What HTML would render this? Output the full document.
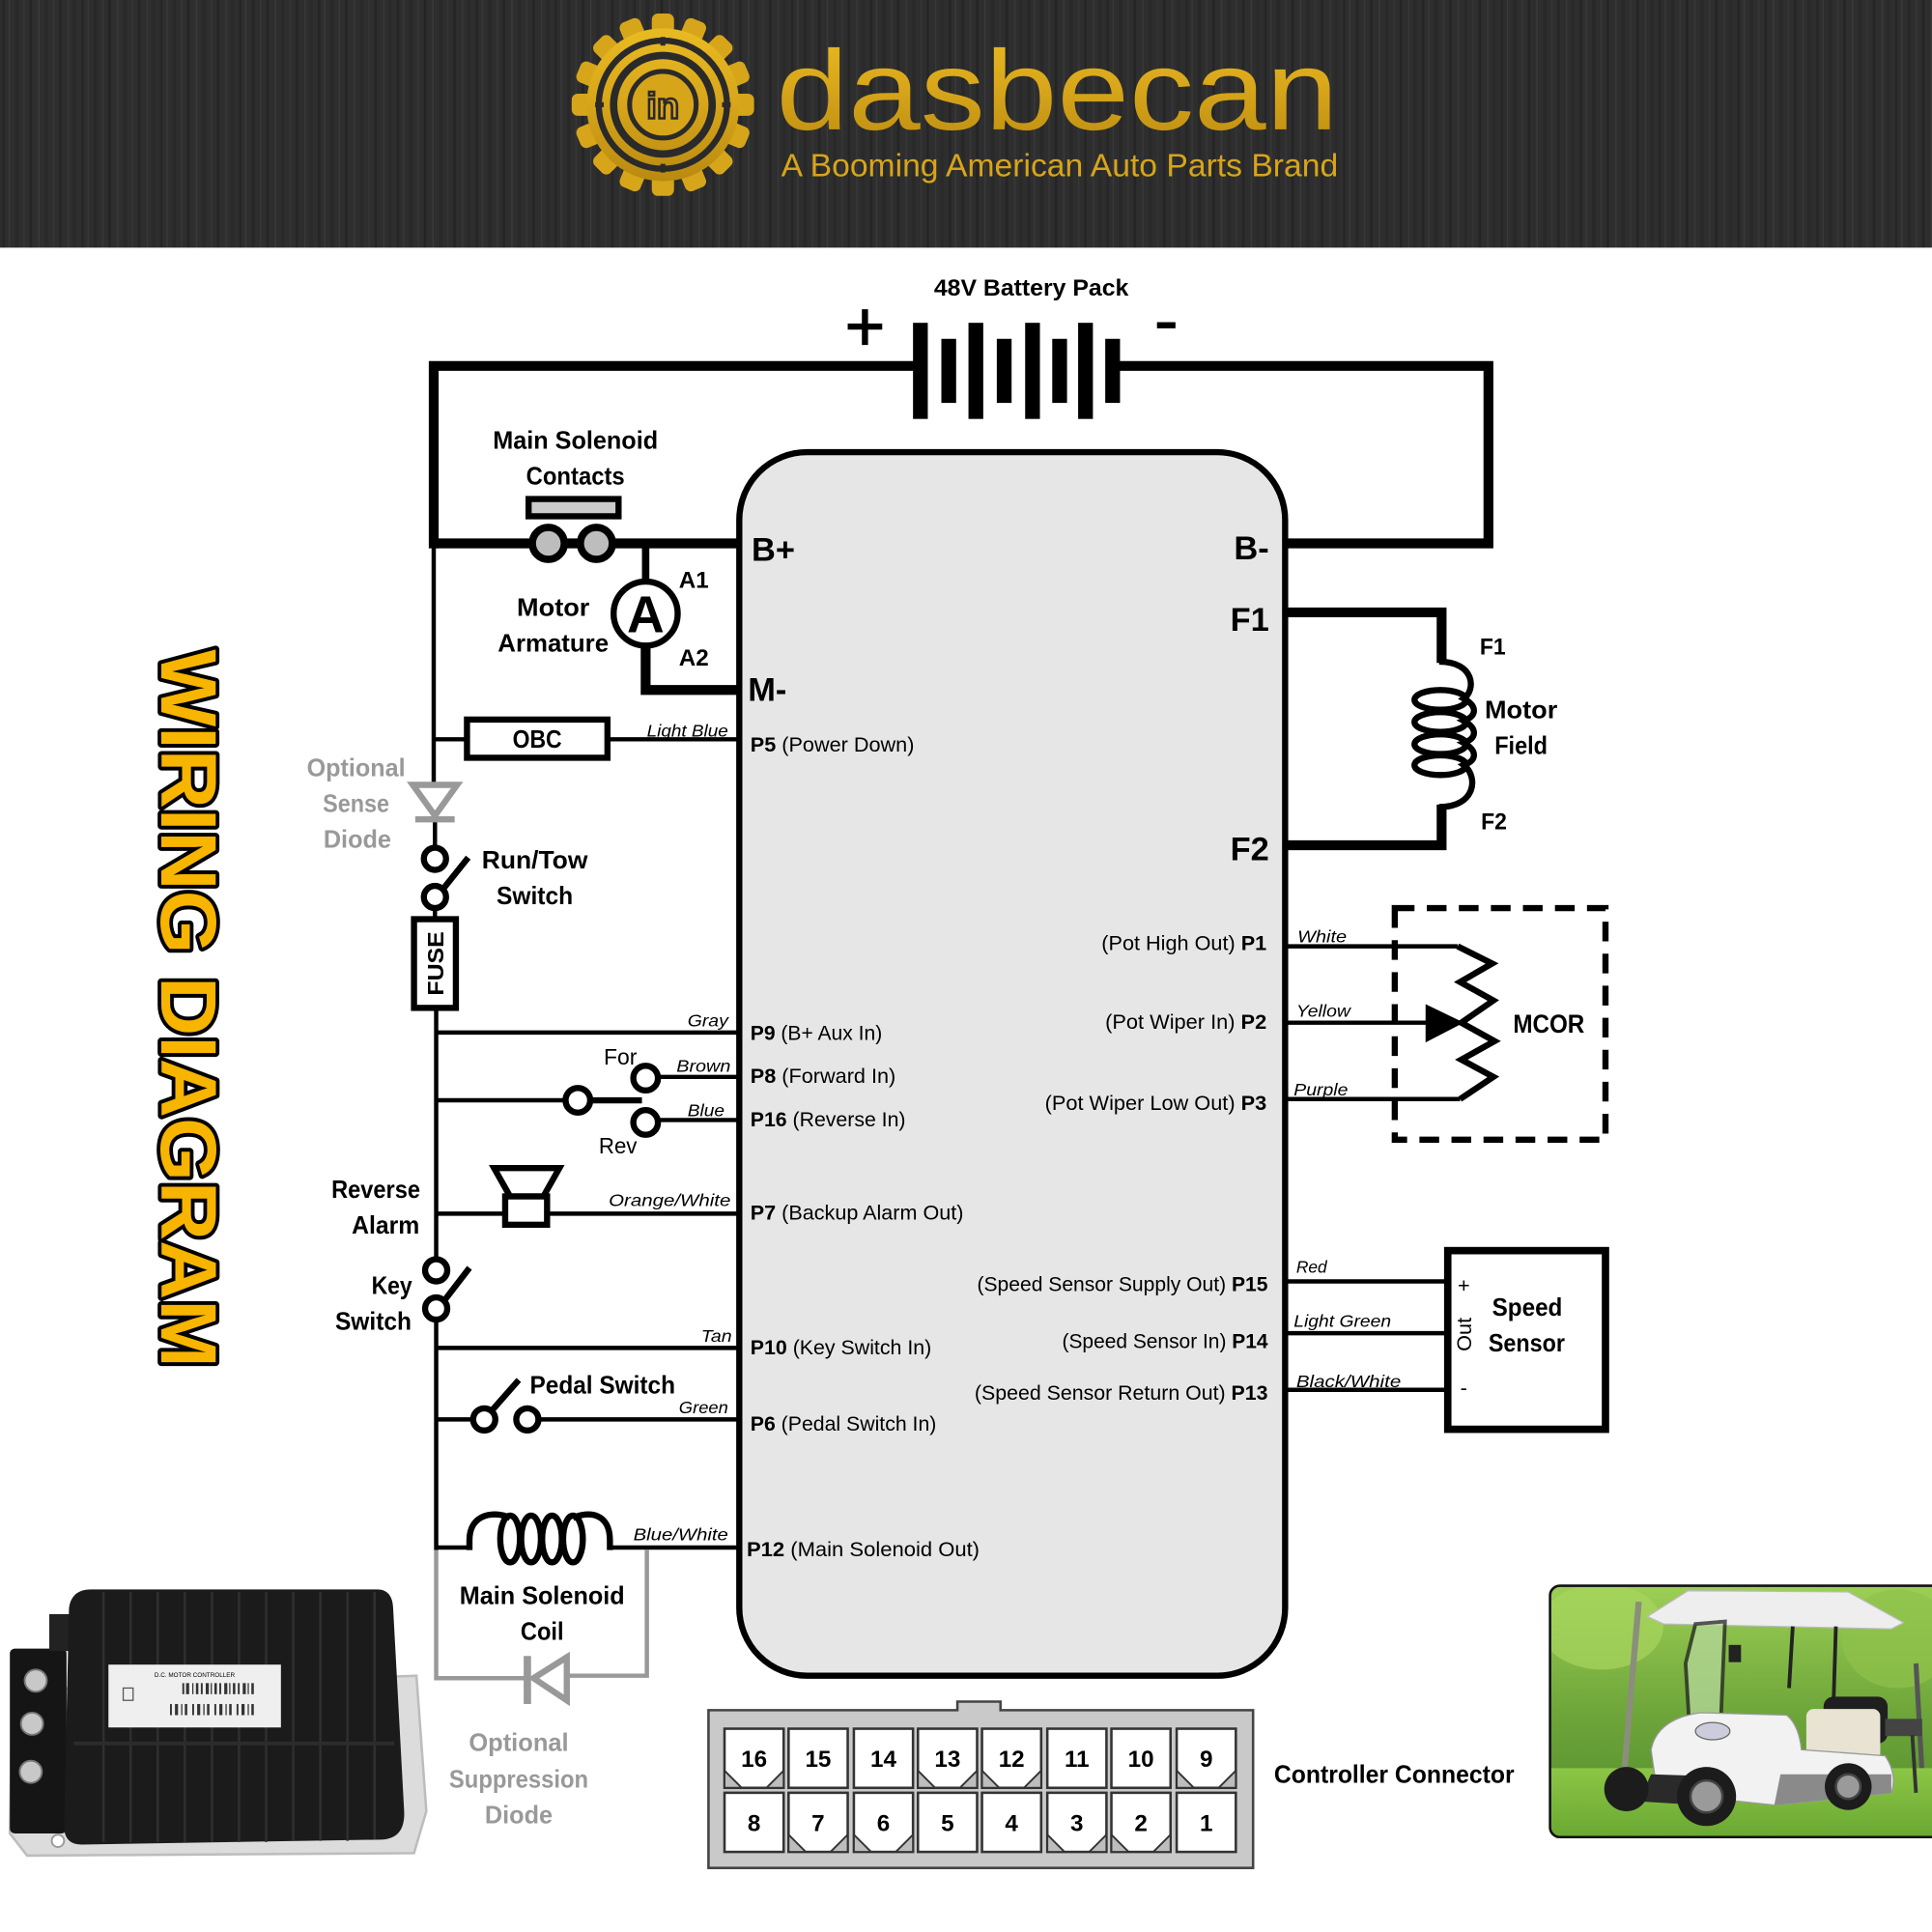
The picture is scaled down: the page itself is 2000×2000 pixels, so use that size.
<!DOCTYPE html>
<html>
<head>
<meta charset="utf-8">
<style>
html,body{margin:0;padding:0;background:#fff;}
svg{display:block;}
text{font-family:"Liberation Sans",sans-serif;}
.b{font-weight:bold;}
.i{font-style:italic;font-size:14px;}
.p{font-size:17px;}
.g{fill:#999;}
</style>
</head>
<body>
<svg width="2000" height="2000" viewBox="0 0 1568 1568" xmlns="http://www.w3.org/2000/svg">
<defs>
  <pattern id="streak" width="64" height="210" patternUnits="userSpaceOnUse">
    <rect width="64" height="210" fill="#2e2e2e"/>
    <rect x="2" width="2" height="210" fill="#262626"/>
    <rect x="7" width="1" height="210" fill="#3a3a3a"/>
    <rect x="12" width="3" height="210" fill="#282828"/>
    <rect x="19" width="1" height="210" fill="#383838"/>
    <rect x="24" width="2" height="210" fill="#242424"/>
    <rect x="31" width="1" height="210" fill="#3b3b3b"/>
    <rect x="36" width="3" height="210" fill="#292929"/>
    <rect x="43" width="1" height="210" fill="#363636"/>
    <rect x="48" width="2" height="210" fill="#252525"/>
    <rect x="55" width="1" height="210" fill="#393939"/>
    <rect x="59" width="3" height="210" fill="#2a2a2a"/>
  </pattern>
  <linearGradient id="gold" x1="0" y1="0" x2="0" y2="1">
    <stop offset="0" stop-color="#e9bb22"/>
    <stop offset="0.5" stop-color="#d7a51a"/>
    <stop offset="1" stop-color="#b98a10"/>
  </linearGradient>
  <linearGradient id="trees" x1="0" y1="0" x2="0" y2="1">
    <stop offset="0" stop-color="#9ccf55"/>
    <stop offset="0.5" stop-color="#6fa63a"/>
    <stop offset="1" stop-color="#4f8a2c"/>
  </linearGradient>
  <linearGradient id="grass" x1="0" y1="0" x2="0" y2="1">
    <stop offset="0" stop-color="#8cc646"/>
    <stop offset="1" stop-color="#6aa832"/>
  </linearGradient>
  <clipPath id="cartclip"><rect x="1258" y="1287" width="320" height="204" rx="8"/></clipPath>
  <rect id="tooth" x="529" y="11" width="18" height="24" rx="5" fill="#d7a51a"/>
</defs>

<!-- HEADER -->
<rect x="0" y="0" width="1568" height="201" fill="url(#streak)"/>
<!-- gear logo -->
<g>
  <use href="#tooth"/>
  <use href="#tooth" transform="rotate(22.5 538 85)"/>
  <use href="#tooth" transform="rotate(45 538 85)"/>
  <use href="#tooth" transform="rotate(67.5 538 85)"/>
  <use href="#tooth" transform="rotate(90 538 85)"/>
  <use href="#tooth" transform="rotate(112.5 538 85)"/>
  <use href="#tooth" transform="rotate(135 538 85)"/>
  <use href="#tooth" transform="rotate(157.5 538 85)"/>
  <use href="#tooth" transform="rotate(180 538 85)"/>
  <use href="#tooth" transform="rotate(202.5 538 85)"/>
  <use href="#tooth" transform="rotate(225 538 85)"/>
  <use href="#tooth" transform="rotate(247.5 538 85)"/>
  <use href="#tooth" transform="rotate(270 538 85)"/>
  <use href="#tooth" transform="rotate(292.5 538 85)"/>
  <use href="#tooth" transform="rotate(315 538 85)"/>
  <use href="#tooth" transform="rotate(337.5 538 85)"/>
  <circle cx="538" cy="85" r="62" fill="url(#gold)"/>
  <circle cx="538" cy="85" r="52" fill="none" stroke="#2a2a2a" stroke-width="5"/>
  <circle cx="538" cy="85" r="40" fill="none" stroke="#2a2a2a" stroke-width="6"/>
  <circle cx="538" cy="85" r="27" fill="#d7a51a" stroke="#2a2a2a" stroke-width="4"/>
  <rect x="536" y="30" width="4" height="7" fill="#2a2a2a"/>
  <rect x="536" y="133" width="4" height="7" fill="#2a2a2a"/>
  <rect x="483" y="83" width="7" height="4" fill="#2a2a2a"/>
  <rect x="586" y="83" width="7" height="4" fill="#2a2a2a"/>
  <text x="538" y="96" text-anchor="middle" font-size="30" font-weight="bold" fill="#d7a51a" stroke="#2a2a2a" stroke-width="2">in</text>
</g>
<text x="630" y="105" font-size="92" fill="url(#gold)" textLength="456" lengthAdjust="spacingAndGlyphs">dasbecan</text>
<text x="634" y="143" font-size="26" fill="#d7a51a" textLength="452" lengthAdjust="spacingAndGlyphs">A Booming American Auto Parts Brand</text>

<!-- WIRING DIAGRAM vertical title -->
<g transform="translate(131,527) rotate(90)">
  <text x="0" y="0" font-size="64" font-weight="bold" fill="#f7b500" stroke="#000" stroke-width="6" paint-order="stroke" stroke-linejoin="round" textLength="583" lengthAdjust="spacingAndGlyphs">WIRING DIAGRAM</text>
</g>

<!-- BATTERY -->
<text x="837" y="240" text-anchor="middle" class="b" font-size="19" textLength="158" lengthAdjust="spacingAndGlyphs">48V Battery Pack</text>
<path d="M688 265 H716 M702 251 V280" stroke="#000" stroke-width="5" fill="none"/>
<path d="M939 264 H954" stroke="#000" stroke-width="5" fill="none"/>
<rect x="741" y="262" width="12" height="78" fill="#000"/>
<rect x="786" y="262" width="12" height="78" fill="#000"/>
<rect x="832" y="262" width="12" height="78" fill="#000"/>
<rect x="875" y="262" width="12" height="78" fill="#000"/>
<rect x="764" y="275" width="12" height="52" fill="#000"/>
<rect x="809" y="275" width="12" height="52" fill="#000"/>
<rect x="854" y="275" width="12" height="52" fill="#000"/>
<rect x="897" y="275" width="12" height="52" fill="#000"/>

<!-- thick power wires -->
<g fill="none" stroke="#000" stroke-width="8" stroke-linejoin="miter">
  <path d="M352 445 V297 H742"/>
  <path d="M908 297 H1208 V441 H1043"/>
  <path d="M352 441 H600"/>
  <path d="M524 524 V560 H600"/>
  <path d="M1043 497 H1170 V538"/>
  <path d="M1170 653 V686 H1043"/>
</g>
<path d="M524 441 V472" stroke="#000" stroke-width="6"/>

<!-- main solenoid contacts -->
<text x="467" y="364" text-anchor="middle" class="b" font-size="20" textLength="134" lengthAdjust="spacingAndGlyphs">Main Solenoid</text>
<text x="467" y="393" text-anchor="middle" class="b" font-size="20" textLength="80" lengthAdjust="spacingAndGlyphs">Contacts</text>
<rect x="429" y="405" width="73" height="14" fill="#ccc" stroke="#000" stroke-width="5"/>
<circle cx="445" cy="441" r="13" fill="#bdbdbd" stroke="#000" stroke-width="6"/>
<circle cx="484" cy="441" r="13" fill="#bdbdbd" stroke="#000" stroke-width="6"/>

<!-- motor armature -->
<circle cx="524" cy="498" r="26" fill="#fff" stroke="#000" stroke-width="5"/>
<text x="524" y="513" text-anchor="middle" class="b" font-size="42">A</text>
<text x="551" y="477" class="b" font-size="19">A1</text>
<text x="551" y="540" class="b" font-size="19">A2</text>
<text x="449" y="500" text-anchor="middle" class="b" font-size="20" textLength="59" lengthAdjust="spacingAndGlyphs">Motor</text>
<text x="449" y="529" text-anchor="middle" class="b" font-size="20" textLength="90" lengthAdjust="spacingAndGlyphs">Armature</text>

<!-- thin signal wires left -->
<g fill="none" stroke="#000" stroke-width="3.5">
  <path d="M352 441 V636"/>
  <path d="M353 666 V688"/>
  <path d="M353 737 V745"/>
  <path d="M354 818 V1022"/>
  <path d="M354 1071 V1258"/>
  <path d="M352 600 H378"/>
  <path d="M494 600 H600"/>
  <path d="M354 838 H600"/>
  <path d="M354 893 H460"/>
  <path d="M478 893 H520"/>
  <path d="M534 874 H600"/>
  <path d="M534 909 H600"/>
  <path d="M354 985 H410"/>
  <path d="M445 985 H600"/>
  <path d="M354 1094 H600"/>
  <path d="M354 1152 H384"/>
  <path d="M437 1152 H600"/>
  <path d="M354 1256 H381"/>
  <path d="M495 1256 H600"/>
</g>

<!-- OBC -->
<rect x="379" y="584" width="114" height="31" fill="#fff" stroke="#000" stroke-width="5"/>
<text x="436" y="607" text-anchor="middle" class="b" font-size="20" textLength="40" lengthAdjust="spacingAndGlyphs">OBC</text>
<text x="591" y="598" text-anchor="end" class="i" textLength="66" lengthAdjust="spacingAndGlyphs">Light Blue</text>

<!-- sense diode -->
<polygon points="335,637 371,637 353,662" fill="none" stroke="#999" stroke-width="5" stroke-linejoin="miter"/>
<path d="M337 665 H369" stroke="#999" stroke-width="5"/>
<text x="289" y="630" text-anchor="middle" class="b g" font-size="20" textLength="80" lengthAdjust="spacingAndGlyphs">Optional</text>
<text x="289" y="659" text-anchor="middle" class="b g" font-size="20" textLength="54" lengthAdjust="spacingAndGlyphs">Sense</text>
<text x="290" y="688" text-anchor="middle" class="b g" font-size="20" textLength="55" lengthAdjust="spacingAndGlyphs">Diode</text>

<!-- run/tow switch -->
<circle cx="353" cy="697" r="9" fill="#fff" stroke="#000" stroke-width="5"/>
<circle cx="353" cy="728" r="9" fill="#fff" stroke="#000" stroke-width="5"/>
<path d="M360 721 L380 696" stroke="#000" stroke-width="5"/>
<text x="434" y="705" text-anchor="middle" class="b" font-size="20" textLength="86" lengthAdjust="spacingAndGlyphs">Run/Tow</text>
<text x="434" y="734" text-anchor="middle" class="b" font-size="20" textLength="62" lengthAdjust="spacingAndGlyphs">Switch</text>

<!-- fuse -->
<rect x="336" y="746" width="34" height="72" fill="#fff" stroke="#000" stroke-width="5"/>
<g transform="translate(360,782) rotate(-90)">
  <text x="0" y="0" text-anchor="middle" class="b" font-size="18" textLength="52" lengthAdjust="spacingAndGlyphs">FUSE</text>
</g>

<!-- gray wire -->
<text x="591" y="833" text-anchor="end" class="i" textLength="33" lengthAdjust="spacingAndGlyphs">Gray</text>

<!-- For/Rev switch -->
<circle cx="469" cy="893" r="10" fill="#fff" stroke="#000" stroke-width="5"/>
<circle cx="524" cy="875" r="10" fill="#fff" stroke="#000" stroke-width="5"/>
<circle cx="524" cy="911" r="10" fill="#fff" stroke="#000" stroke-width="5"/>
<path d="M478 893 H521" stroke="#000" stroke-width="5"/>
<text x="490" y="864" font-size="18" textLength="27" lengthAdjust="spacingAndGlyphs">For</text>
<text x="486" y="936" font-size="18" textLength="31" lengthAdjust="spacingAndGlyphs">Rev</text>
<text x="593" y="870" text-anchor="end" class="i" textLength="44" lengthAdjust="spacingAndGlyphs">Brown</text>
<text x="588" y="906" text-anchor="end" class="i" textLength="30" lengthAdjust="spacingAndGlyphs">Blue</text>

<!-- reverse alarm -->
<polygon points="401,948 454,948 441,971 414,971" fill="#fff" stroke="#000" stroke-width="5" stroke-linejoin="miter"/>
<rect x="410" y="971" width="34" height="23" fill="#fff" stroke="#000" stroke-width="5"/>
<text x="305" y="972" text-anchor="middle" class="b" font-size="20" textLength="72" lengthAdjust="spacingAndGlyphs">Reverse</text>
<text x="313" y="1001" text-anchor="middle" class="b" font-size="20" textLength="55" lengthAdjust="spacingAndGlyphs">Alarm</text>
<text x="593" y="979" text-anchor="end" class="i" textLength="99" lengthAdjust="spacingAndGlyphs">Orange/White</text>

<!-- key switch -->
<circle cx="354" cy="1031" r="9" fill="#fff" stroke="#000" stroke-width="5"/>
<circle cx="354" cy="1062" r="9" fill="#fff" stroke="#000" stroke-width="5"/>
<path d="M361 1055 L381 1029" stroke="#000" stroke-width="5"/>
<text x="318" y="1050" text-anchor="middle" class="b" font-size="20" textLength="33" lengthAdjust="spacingAndGlyphs">Key</text>
<text x="303" y="1079" text-anchor="middle" class="b" font-size="20" textLength="62" lengthAdjust="spacingAndGlyphs">Switch</text>
<text x="594" y="1089" text-anchor="end" class="i" textLength="25" lengthAdjust="spacingAndGlyphs">Tan</text>

<!-- pedal switch -->
<circle cx="393" cy="1152" r="9" fill="#fff" stroke="#000" stroke-width="5"/>
<circle cx="428" cy="1152" r="9" fill="#fff" stroke="#000" stroke-width="5"/>
<path d="M399 1145 L421 1120" stroke="#000" stroke-width="5"/>
<text x="430" y="1131" class="b" font-size="20" textLength="118" lengthAdjust="spacingAndGlyphs">Pedal Switch</text>
<text x="591" y="1147" text-anchor="end" class="i" textLength="40" lengthAdjust="spacingAndGlyphs">Green</text>

<!-- main solenoid coil -->
<g fill="none" stroke="#000" stroke-width="5">
  <path d="M381 1258 V1250 C381 1228 402 1226 414 1232"/>
  <path d="M465 1232 C478 1226 495 1228 495 1250 V1258"/>
  <ellipse cx="414" cy="1249" rx="8" ry="19"/>
  <ellipse cx="431" cy="1249" rx="8" ry="19"/>
  <ellipse cx="448" cy="1249" rx="8" ry="19"/>
  <ellipse cx="465" cy="1249" rx="8" ry="19"/>
</g>
<text x="591" y="1250" text-anchor="end" class="i" textLength="77" lengthAdjust="spacingAndGlyphs">Blue/White</text>
<text x="440" y="1302" text-anchor="middle" class="b" font-size="20" textLength="134" lengthAdjust="spacingAndGlyphs">Main Solenoid</text>
<text x="440" y="1331" text-anchor="middle" class="b" font-size="20" textLength="35" lengthAdjust="spacingAndGlyphs">Coil</text>

<!-- suppression diode -->
<g fill="none" stroke="#999" stroke-width="3.5">
  <path d="M354 1258 V1362 H426"/>
  <path d="M460 1360 H525 V1258"/>
</g>
<path d="M428 1344 V1383" stroke="#999" stroke-width="6"/>
<polygon points="433,1362 460,1345 460,1380" fill="none" stroke="#999" stroke-width="5" stroke-linejoin="miter"/>
<text x="421" y="1421" text-anchor="middle" class="b g" font-size="20" textLength="81" lengthAdjust="spacingAndGlyphs">Optional</text>
<text x="421" y="1451" text-anchor="middle" class="b g" font-size="20" textLength="113" lengthAdjust="spacingAndGlyphs">Suppression</text>
<text x="421" y="1480" text-anchor="middle" class="b g" font-size="20" textLength="55" lengthAdjust="spacingAndGlyphs">Diode</text>

<!-- right side thin wires -->
<g fill="none" stroke="#000" stroke-width="3.5">
  <path d="M1043 768 H1183"/>
  <path d="M1043 830 H1160"/>
  <path d="M1043 892 H1185"/>
  <path d="M1043 1040 H1174"/>
  <path d="M1043 1082 H1174"/>
  <path d="M1043 1128 H1174"/>
</g>

<!-- CONTROLLER BODY -->
<rect x="600" y="367" width="443" height="993" rx="55" fill="#e6e6e6" stroke="#000" stroke-width="5"/>
<text x="610" y="455" class="b" font-size="27">B+</text>
<text x="607" y="569" class="b" font-size="27">M-</text>
<text x="1030" y="454" text-anchor="end" class="b" font-size="27">B-</text>
<text x="1030" y="512" text-anchor="end" class="b" font-size="27">F1</text>
<text x="1030" y="698" text-anchor="end" class="b" font-size="27">F2</text>

<text x="609" y="610" class="p" textLength="133" lengthAdjust="spacingAndGlyphs"><tspan font-weight="bold">P5</tspan> (Power Down)</text>
<text x="609" y="844" class="p" textLength="107" lengthAdjust="spacingAndGlyphs"><tspan font-weight="bold">P9</tspan> (B+ Aux In)</text>
<text x="609" y="879" class="p" textLength="118" lengthAdjust="spacingAndGlyphs"><tspan font-weight="bold">P8</tspan> (Forward In)</text>
<text x="609" y="914" class="p" textLength="126" lengthAdjust="spacingAndGlyphs"><tspan font-weight="bold">P16</tspan> (Reverse In)</text>
<text x="609" y="990" class="p" textLength="173" lengthAdjust="spacingAndGlyphs"><tspan font-weight="bold">P7</tspan> (Backup Alarm Out)</text>
<text x="609" y="1099" class="p" textLength="147" lengthAdjust="spacingAndGlyphs"><tspan font-weight="bold">P10</tspan> (Key Switch In)</text>
<text x="609" y="1161" class="p" textLength="151" lengthAdjust="spacingAndGlyphs"><tspan font-weight="bold">P6</tspan> (Pedal Switch In)</text>
<text x="606" y="1263" class="p" textLength="189" lengthAdjust="spacingAndGlyphs"><tspan font-weight="bold">P12</tspan> (Main Solenoid Out)</text>

<text x="1028" y="771" text-anchor="end" class="p" textLength="134" lengthAdjust="spacingAndGlyphs">(Pot High Out) <tspan font-weight="bold">P1</tspan></text>
<text x="1028" y="835" text-anchor="end" class="p" textLength="131" lengthAdjust="spacingAndGlyphs">(Pot Wiper In) <tspan font-weight="bold">P2</tspan></text>
<text x="1028" y="901" text-anchor="end" class="p" textLength="180" lengthAdjust="spacingAndGlyphs">(Pot Wiper Low Out) <tspan font-weight="bold">P3</tspan></text>
<text x="1029" y="1048" text-anchor="end" class="p" textLength="236" lengthAdjust="spacingAndGlyphs">(Speed Sensor Supply Out) <tspan font-weight="bold">P15</tspan></text>
<text x="1029" y="1094" text-anchor="end" class="p" textLength="167" lengthAdjust="spacingAndGlyphs">(Speed Sensor In) <tspan font-weight="bold">P14</tspan></text>
<text x="1029" y="1136" text-anchor="end" class="p" textLength="238" lengthAdjust="spacingAndGlyphs">(Speed Sensor Return Out) <tspan font-weight="bold">P13</tspan></text>

<!-- motor field coil -->
<g fill="none" stroke="#000" stroke-width="5">
  <path d="M1168 537 C1197 537 1198 560 1188 567 C1199 573 1199 581 1188 585 C1199 591 1199 599 1188 603 C1199 609 1199 617 1188 621 C1200 630 1198 655 1168 655"/>
  <ellipse cx="1169" cy="568" rx="21" ry="8"/>
  <ellipse cx="1169" cy="586" rx="21" ry="8"/>
  <ellipse cx="1169" cy="604" rx="21" ry="8"/>
  <ellipse cx="1169" cy="621" rx="21" ry="8"/>
</g>
<text x="1201" y="531" class="b" font-size="19" textLength="21" lengthAdjust="spacingAndGlyphs">F1</text>
<text x="1205" y="583" class="b" font-size="20" textLength="59" lengthAdjust="spacingAndGlyphs">Motor</text>
<text x="1213" y="612" class="b" font-size="20" textLength="43" lengthAdjust="spacingAndGlyphs">Field</text>
<text x="1202" y="673" class="b" font-size="19" textLength="21" lengthAdjust="spacingAndGlyphs">F2</text>

<!-- MCOR -->
<rect x="1132" y="737" width="171" height="188" fill="none" stroke="#000" stroke-width="5" stroke-dasharray="16 10"/>
<polyline points="1183,768 1211,782 1185,797 1212,812 1186,830 1213,845 1186,860 1212,874 1185,892" fill="none" stroke="#000" stroke-width="5" stroke-linejoin="miter"/>
<polygon points="1157,815 1157,846 1188,830" fill="#000"/>
<text x="1228" y="838" class="b" font-size="21" textLength="58" lengthAdjust="spacingAndGlyphs">MCOR</text>
<text x="1053" y="765" class="i" textLength="40" lengthAdjust="spacingAndGlyphs">White</text>
<text x="1052" y="825" class="i" textLength="44" lengthAdjust="spacingAndGlyphs">Yellow</text>
<text x="1050" y="889" class="i" textLength="44" lengthAdjust="spacingAndGlyphs">Purple</text>

<!-- speed sensor -->
<rect x="1175" y="1015" width="128" height="145" fill="#fff" stroke="#000" stroke-width="6"/>
<text x="1188" y="1049" text-anchor="middle" font-size="17">+</text>
<g transform="translate(1194,1083) rotate(-90)">
  <text x="0" y="0" text-anchor="middle" font-size="17">Out</text>
</g>
<text x="1188" y="1132" text-anchor="middle" font-size="17">-</text>
<text x="1211" y="1068" class="b" font-size="20" textLength="57" lengthAdjust="spacingAndGlyphs">Speed</text>
<text x="1208" y="1097" class="b" font-size="20" textLength="62" lengthAdjust="spacingAndGlyphs">Sensor</text>
<text x="1052" y="1033" class="i" textLength="25" lengthAdjust="spacingAndGlyphs">Red</text>
<text x="1050" y="1077" class="i" textLength="79" lengthAdjust="spacingAndGlyphs">Light Green</text>
<text x="1052" y="1126" class="i" textLength="85" lengthAdjust="spacingAndGlyphs">Black/White</text>

<!-- CONTROLLER CONNECTOR -->
<path d="M575 1388 H777 V1381 H812 V1388 H1017 V1516 H575 Z" fill="#c9c9c9" stroke="#444" stroke-width="2"/>
<g fill="#fff" stroke="#333" stroke-width="2">
  <rect x="588" y="1403" width="48" height="48"/>
  <rect x="640" y="1403" width="48" height="48"/>
  <rect x="693" y="1403" width="48" height="48"/>
  <rect x="745" y="1403" width="48" height="48"/>
  <rect x="797" y="1403" width="48" height="48"/>
  <rect x="850" y="1403" width="48" height="48"/>
  <rect x="902" y="1403" width="48" height="48"/>
  <rect x="955" y="1403" width="48" height="48"/>
  <rect x="588" y="1455" width="48" height="48"/>
  <rect x="640" y="1455" width="48" height="48"/>
  <rect x="693" y="1455" width="48" height="48"/>
  <rect x="745" y="1455" width="48" height="48"/>
  <rect x="797" y="1455" width="48" height="48"/>
  <rect x="850" y="1455" width="48" height="48"/>
  <rect x="902" y="1455" width="48" height="48"/>
  <rect x="955" y="1455" width="48" height="48"/>
</g>
<g fill="#bdbdbd" stroke="#333" stroke-width="1.5">
  <polygon points="588,1437 588,1451 602,1451"/><polygon points="636,1437 636,1451 622,1451"/>
  <polygon points="745,1437 745,1451 759,1451"/><polygon points="793,1437 793,1451 779,1451"/>
  <polygon points="797,1437 797,1451 811,1451"/><polygon points="845,1437 845,1451 831,1451"/>
  <polygon points="955,1437 955,1451 969,1451"/><polygon points="1003,1437 1003,1451 989,1451"/>
  <polygon points="640,1489 640,1503 654,1503"/><polygon points="688,1489 688,1503 674,1503"/>
  <polygon points="693,1489 693,1503 707,1503"/><polygon points="741,1489 741,1503 727,1503"/>
  <polygon points="850,1489 850,1503 864,1503"/><polygon points="898,1489 898,1503 884,1503"/>
  <polygon points="902,1489 902,1503 916,1503"/><polygon points="950,1489 950,1503 936,1503"/>
</g>
<g class="b" font-size="19" text-anchor="middle">
  <text x="612" y="1434">16</text><text x="664" y="1434">15</text><text x="717" y="1434">14</text><text x="769" y="1434">13</text>
  <text x="821" y="1434">12</text><text x="874" y="1434">11</text><text x="926" y="1434">10</text><text x="979" y="1434">9</text>
  <text x="612" y="1486">8</text><text x="664" y="1486">7</text><text x="717" y="1486">6</text><text x="769" y="1486">5</text>
  <text x="821" y="1486">4</text><text x="874" y="1486">3</text><text x="926" y="1486">2</text><text x="979" y="1486">1</text>
</g>
<text x="1034" y="1447" class="b" font-size="20" textLength="195" lengthAdjust="spacingAndGlyphs">Controller Connector</text>

<!-- PRODUCT: motor controller -->
<g>
  <polygon points="10,1372 338,1360 346,1470 336,1504 22,1506 8,1488" fill="#dcdcdc" stroke="#bdbdbd" stroke-width="2"/>
  <circle cx="47" cy="1494" r="5" fill="#fff" stroke="#999" stroke-width="1.5"/>
  <rect x="8" y="1338" width="46" height="150" rx="4" fill="#151515"/>
  <rect x="40" y="1310" width="18" height="30" fill="#222"/>
  <circle cx="29" cy="1364" r="9" fill="#c8c8c8" stroke="#777" stroke-width="1.5"/>
  <circle cx="26" cy="1399" r="9" fill="#c8c8c8" stroke="#777" stroke-width="1.5"/>
  <circle cx="25" cy="1438" r="9" fill="#c8c8c8" stroke="#777" stroke-width="1.5"/>
  <path d="M74 1290 H306 Q318 1290 319 1304 L328 1470 Q329 1492 310 1493 L66 1497 Q52 1497 52 1482 L56 1305 Q58 1290 74 1290 Z" fill="#1b1b1b"/>
  <g stroke="#2f2f2f" stroke-width="2">
    <path d="M84 1292 V1495"/><path d="M106 1292 V1495"/><path d="M128 1292 V1495"/><path d="M150 1292 V1495"/>
    <path d="M172 1292 V1495"/><path d="M194 1292 V1495"/><path d="M216 1292 V1495"/><path d="M238 1292 V1494"/>
    <path d="M260 1292 V1494"/><path d="M282 1292 V1494"/><path d="M304 1292 V1493"/>
  </g>
  <path d="M60 1415 H320" stroke="#2c2c2c" stroke-width="3"/>
  <rect x="88" y="1351" width="140" height="51" fill="#efefef"/>
  <text x="158" y="1361" text-anchor="middle" font-size="5">D.C. MOTOR CONTROLLER</text>
  <g fill="#333">
    <rect x="148" y="1366" width="1.5" height="9"/><rect x="151" y="1366" width="2.5" height="9"/><rect x="156" y="1366" width="1" height="9"/><rect x="159" y="1366" width="2" height="9"/>
    <rect x="163" y="1366" width="1.5" height="9"/><rect x="167" y="1366" width="2.5" height="9"/><rect x="171" y="1366" width="1" height="9"/><rect x="174" y="1366" width="2" height="9"/>
    <rect x="178" y="1366" width="1.5" height="9"/><rect x="182" y="1366" width="2.5" height="9"/><rect x="186" y="1366" width="1" height="9"/><rect x="189" y="1366" width="2" height="9"/>
    <rect x="193" y="1366" width="1.5" height="9"/><rect x="197" y="1366" width="2.5" height="9"/><rect x="201" y="1366" width="1" height="9"/><rect x="204" y="1366" width="2" height="9"/>
    <rect x="138" y="1383" width="1.5" height="9"/><rect x="142" y="1383" width="2.5" height="9"/><rect x="147" y="1383" width="1" height="9"/><rect x="150" y="1383" width="2" height="9"/>
    <rect x="156" y="1383" width="1.5" height="9"/><rect x="160" y="1383" width="2.5" height="9"/><rect x="165" y="1383" width="1" height="9"/><rect x="168" y="1383" width="2" height="9"/>
    <rect x="174" y="1383" width="1.5" height="9"/><rect x="178" y="1383" width="2.5" height="9"/><rect x="183" y="1383" width="1" height="9"/><rect x="186" y="1383" width="2" height="9"/>
    <rect x="192" y="1383" width="1.5" height="9"/><rect x="196" y="1383" width="2.5" height="9"/><rect x="201" y="1383" width="1" height="9"/><rect x="204" y="1383" width="2" height="9"/>
  </g>
  <rect x="100" y="1370" width="8" height="10" fill="none" stroke="#555" stroke-width="1"/>
</g>

<!-- PRODUCT: golf cart photo -->
<g clip-path="url(#cartclip)">
  <rect x="1258" y="1287" width="320" height="204" fill="url(#trees)"/>
  <ellipse cx="1300" cy="1320" rx="50" ry="35" fill="#a8d65e" opacity="0.7"/>
  <ellipse cx="1540" cy="1330" rx="45" ry="40" fill="#8fc24b" opacity="0.7"/>
  <path d="M1330 1300 L1318 1440" stroke="#8a8f7a" stroke-width="5"/>
  <path d="M1555 1350 L1560 1440" stroke="#555" stroke-width="4"/>
  <rect x="1258" y="1435" width="320" height="56" fill="url(#grass)"/>
  <!-- roof -->
  <polygon points="1337,1312 1370,1291 1500,1292 1545,1317 1535,1322 1350,1318" fill="#eeeeee" stroke="#bbb" stroke-width="1"/>
  <!-- windshield frame -->
  <polygon points="1376,1318 1400,1316 1396,1412 1372,1416 1368,1350" fill="#b5d89a" opacity="0.75" stroke="#222" stroke-width="3"/>
  <path d="M1455 1320 L1452 1370" stroke="#222" stroke-width="3"/>
  <path d="M1490 1320 L1488 1385" stroke="#222" stroke-width="3"/>
  <rect x1="0" x="1403" y="1335" width="10" height="14" fill="#222"/>
  <!-- seat backrest -->
  <rect x="1480" y="1377" width="52" height="38" rx="8" fill="#1f1f1f"/>
  <!-- seat -->
  <rect x="1466" y="1387" width="60" height="42" rx="6" fill="#e8e3d2"/>
  <!-- rear rack -->
  <rect x="1530" y="1395" width="30" height="14" fill="#444"/>
  <path d="M1552 1408 L1555 1455" stroke="#333" stroke-width="3"/>
  <!-- body -->
  <path d="M1340 1420 Q1345 1395 1380 1390 L1450 1392 Q1460 1400 1462 1420 L1530 1425 Q1540 1440 1535 1455 L1440 1465 L1345 1455 Z" fill="#f2f2f2" stroke="#999" stroke-width="1"/>
  <path d="M1445 1440 L1535 1440 L1535 1455 L1440 1465 Z" fill="#8a8a8a"/>
  <path d="M1340 1440 L1400 1442 L1395 1466 L1330 1462 Z" fill="#2a2a2a"/>
  <ellipse cx="1390" cy="1405" rx="14" ry="7" fill="#ccd" stroke="#666" stroke-width="1"/>
  <!-- wheels -->
  <circle cx="1320" cy="1452" r="18" fill="#1c1c1c"/>
  <circle cx="1385" cy="1458" r="24" fill="#1c1c1c"/>
  <circle cx="1385" cy="1458" r="13" fill="#9a9a9a" stroke="#444" stroke-width="2"/>
  <circle cx="1500" cy="1450" r="19" fill="#1c1c1c"/>
  <circle cx="1500" cy="1450" r="10" fill="#9a9a9a" stroke="#444" stroke-width="2"/>
</g>
<rect x="1258" y="1287" width="320" height="204" rx="8" fill="none" stroke="#111" stroke-width="2"/>
</svg>
</body>
</html>
